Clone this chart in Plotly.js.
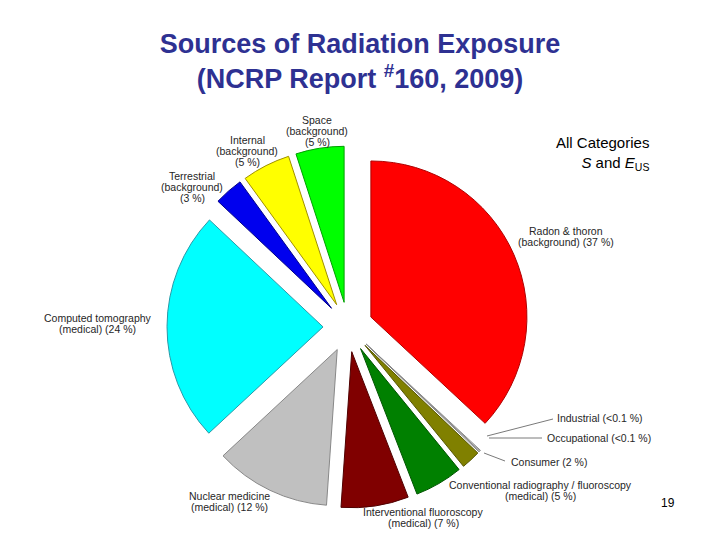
<!DOCTYPE html>
<html>
<head>
<meta charset="utf-8">
<script src="https://cdn.plot.ly/plotly-3.0.1.min.js"></script>
<style>html,body{margin:0;padding:0;background:#fff;}#chart{width:720px;height:540px;}</style>
</head>
<body>
<div id="chart"></div>
<script>
// ---- data ----
const categories = [
  'Radon & thoron (background)',
  'Industrial',
  'Occupational',
  'Consumer',
  'Conventional radiography / fluoroscopy (medical)',
  'Interventional fluoroscopy (medical)',
  'Nuclear medicine (medical)',
  'Computed tomography (medical)',
  'Terrestrial (background)',
  'Internal (background)',
  'Space (background)'
];
const values = [37, 0.1, 0.1, 2, 5, 7, 12, 24, 3, 5, 5];
const percentText = ['37 %', '<0.1 %', '<0.1 %', '2 %', '5 %', '7 %', '12 %', '24 %', '3 %', '5 %', '5 %'];
const labelLines = [
  ['Radon & thoron', '(background) (' + percentText[0] + ')'],
  ['Industrial (' + percentText[1] + ')'],
  ['Occupational (' + percentText[2] + ')'],
  ['Consumer (' + percentText[3] + ')'],
  ['Conventional radiography / fluoroscopy', '(medical) (' + percentText[4] + ')'],
  ['Interventional fluoroscopy', '(medical) (' + percentText[5] + ')'],
  ['Nuclear medicine', '(medical) (' + percentText[6] + ')'],
  ['Computed tomography', '(medical) (' + percentText[7] + ')'],
  ['Terrestrial', '(background)', '(' + percentText[8] + ')'],
  ['Internal', '(background)', '(' + percentText[9] + ')'],
  ['Space', '(background)', '(' + percentText[10] + ')']
];
const sideNote = 'All Categories<br><i>S</i> and <i>E</i><sub>US</sub>';
const pageNumber = '19';

// ---- styles ----
const fillColors = ['#ff0000', '#ffffff', '#ffffff', '#808000', '#008000', '#800000',
                    '#c0c0c0', '#00ffff', '#0000ee', '#ffff00', '#00ff00'];
const lineColors = ['#b00000', '#888888', '#888888', '#555500', '#005500', '#500000',
                    '#888888', '#2a9aa8', '#000088', '#a09000', '#00a000'];

// label placement in pixels: [x, yFirstLine, xanchor]
const labelPos = [
  [566, 231, 'center'],
  [555, 418, 'left'],
  [545, 438, 'left'],
  [509, 462, 'left'],
  [540, 485, 'center'],
  [423, 512, 'center'],
  [230, 496, 'center'],
  [98, 318, 'center'],
  [192, 176, 'center'],
  [247, 140, 'center'],
  [317, 120, 'center']
];
const W = 720, H = 540, LINE = 11;
const px = x => x / W;
const py = y => 1 - y / H;

const labelFont = {family: 'Liberation Sans, Arial, sans-serif', size: 10.5, color: '#262626'};
const annotations = [];
labelLines.forEach((lines, i) => {
  const [x, y0, xa] = labelPos[i];
  lines.forEach((t, j) => {
    annotations.push({
      xref: 'paper', yref: 'paper', x: px(x), y: py(y0 + j * LINE),
      xanchor: xa, yanchor: 'middle', text: t, showarrow: false, font: labelFont
    });
  });
});
annotations.push({
  xref: 'paper', yref: 'paper', x: px(651), y: py(153), xanchor: 'right', yanchor: 'middle',
  align: 'right', showarrow: false, text: sideNote,
  font: {family: 'Liberation Sans, Arial, sans-serif', size: 15, color: '#000'}
});
annotations.push({
  xref: 'paper', yref: 'paper', x: px(668), y: py(503), xanchor: 'center', yanchor: 'middle',
  showarrow: false, text: pageNumber,
  font: {family: 'Liberation Sans, Arial, sans-serif', size: 12, color: '#000'}
});

const leader = (x0, y0, x1, y1) => ({
  type: 'line', xref: 'paper', yref: 'paper',
  x0: px(x0), y0: py(y0), x1: px(x1), y1: py(y1),
  line: {color: '#7a7a7a', width: 1}
});
const shapes = [
  leader(487, 436, 553, 419),
  leader(489, 438, 542, 438),
  leader(484, 453, 505, 461)
];

const trace = {
  type: 'pie',
  labels: categories,
  values: values,
  sort: false,
  direction: 'clockwise',
  rotation: 0,
  pull: values.map(() => 0.16),
  textinfo: 'none',
  hoverinfo: 'none',
  showlegend: false,
  marker: {colors: fillColors, line: {color: lineColors, width: 1}},
  domain: {x: [px(166), px(530)], y: [py(508), py(146)]}
};

const layout = {
  width: W, height: H,
  margin: {l: 0, r: 0, t: 0, b: 0},
  paper_bgcolor: '#ffffff',
  showlegend: false,
  title: {
    text: 'Sources of Radiation Exposure<br>(NCRP Report <sup>#</sup>160, 2009)',
    x: 0.5, xanchor: 'center', xref: 'paper',
    y: 1 - 53 / H, yanchor: 'middle', yref: 'container',
    font: {family: 'Liberation Sans, Arial, sans-serif', size: 27, color: '#2e3192', weight: 'bold'}
  },
  annotations: annotations,
  shapes: shapes
};

Plotly.newPlot('chart', [trace], layout, {displayModeBar: false, staticPlot: true});
</script>
</body>
</html>
